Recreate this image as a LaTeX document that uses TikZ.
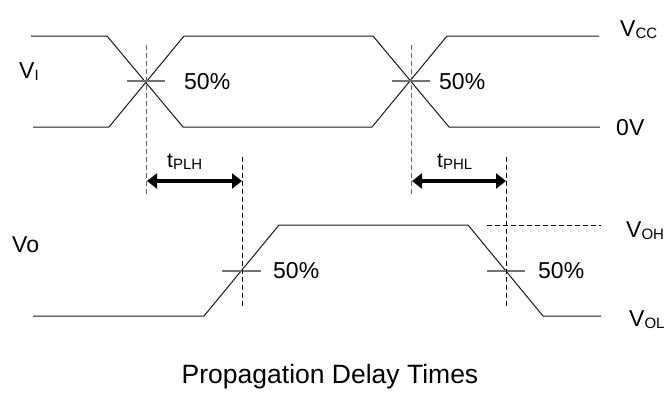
\documentclass[tikz,border=0pt]{standalone}
\usepackage{fontspec}
\setmainfont{Liberation Sans}
\usetikzlibrary{arrows.meta}
% subscript set lower and smaller than the main letter
\newcommand\lowsub[1]{\raisebox{-2pt}{\fontsize{15}{15}\selectfont #1}}
\tikzset{
  wave/.style={line width=1pt, draw=black!90},
  tick/.style={line width=1.4pt, draw=black!55},
  guidegray/.style={line width=0.9pt, draw=black!60, dash pattern=on 5pt off 3pt},
  guide/.style={line width=0.9pt, draw=black, dash pattern=on 5pt off 3pt},
  delay/.style={line width=4pt, draw=black, {Triangle[length=10pt,width=15pt]}-{Triangle[length=10pt,width=15pt]}},
  lbl/.style={anchor=base west, inner sep=0pt, font=\fontsize{23}{27}\selectfont},
  tlbl/.style={anchor=base west, inner sep=0pt, font=\fontsize{21}{25}\selectfont},
}
\begin{document}
\begin{tikzpicture}[x=1pt,y=-1pt]
\useasboundingbox (0,0) rectangle (668,407);

% input waveform V_I (two complementary traces)
\draw[wave] (31,36) -- (107,36) -- (183,127) -- (372,127) -- (447,36) -- (599,36);
\draw[wave] (33,127) -- (109,127) -- (184,36) -- (373,36) -- (449,127) -- (600,127);

% output waveform Vo
\draw[wave] (33,316) -- (204,316) -- (279,225) -- (468,225) -- (543,316) -- (601,316);
\coordinate (ohA) at (487,225);
\coordinate (ohB) at (601,225);
\draw[guide] (ohA) -- (ohB);

% 50% reference ticks
\draw[tick] (127,81) -- (165,81);
\draw[tick] (392,81) -- (430,81);
\draw[tick] (222,271) -- (261,271);
\draw[tick] (487,271) -- (525,271);

% timing reference lines
\coordinate (inA1) at (146,45);  \coordinate (inA2) at (146,197);
\coordinate (inB1) at (411,45);  \coordinate (inB2) at (411,197);
\coordinate (outA1) at (242,157); \coordinate (outA2) at (242,308);
\coordinate (outB1) at (506,157); \coordinate (outB2) at (506,308);
\draw[guidegray] (inA1) -- (inA2);
\draw[guidegray] (inB1) -- (inB2);
\draw[guide] (outA1) -- (outA2);
\draw[guide] (outB1) -- (outB2);

% propagation delay arrows
\coordinate (plhL) at (147,181); \coordinate (plhR) at (242,181);
\coordinate (phlL) at (412,181); \coordinate (phlR) at (506,181);
\draw[delay] (plhL) -- (plhR);
\draw[delay] (phlL) -- (phlR);

% labels
\node[lbl] (vi)  at (19,78)   {V\lowsub{I}};
\node[lbl] (vcc) at (620,36)  {V\lowsub{CC}};
\node[lbl] (zv)  at (616,135) {0V};
\node[lbl] (vo)  at (12,252)  {Vo};
\node[lbl] (voh) at (626,237) {V\lowsub{OH}};
\node[lbl] (vol) at (629,326) {V\lowsub{OL}};
\node[lbl] (p1)  at (184,89)  {50\%};
\node[lbl] (p2)  at (439,89)  {50\%};
\node[lbl] (p3)  at (273,278) {50\%};
\node[lbl] (p4)  at (538,278) {50\%};
\node[tlbl] (tplh) at (167,167) {t\lowsub{PLH}};
\node[tlbl] (tphl) at (437,167) {t\lowsub{PHL}};
\node[anchor=base, inner sep=0pt, font=\fontsize{26.5}{31}\selectfont] (title) at (330,383) {Propagation Delay Times};
\end{tikzpicture}
\end{document}
